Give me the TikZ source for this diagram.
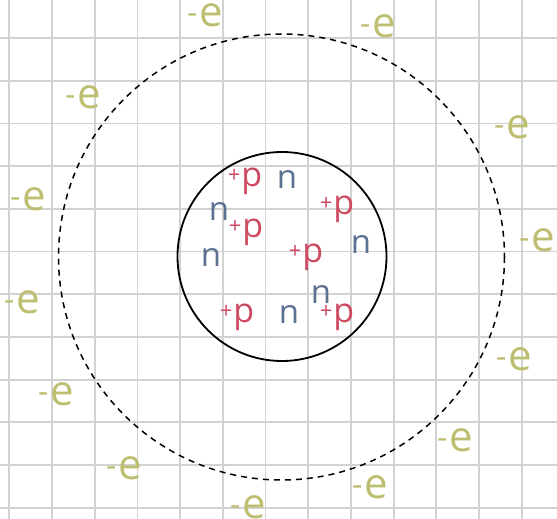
\documentclass[tikz,border=0pt]{standalone}
\usepackage{fontspec}
\setmainfont{Open Sans}
\definecolor{gridgray}{RGB}{210,210,210}
\definecolor{olive}{RGB}{190,190,112}
\definecolor{protred}{RGB}{206,74,96}
\definecolor{neutblue}{RGB}{92,112,146}
\newcommand{\elab}{\raisebox{3pt}{\fontsize{32}{32}\selectfont -}\hspace{2pt}{\fontsize{42}{42}\selectfont e}}
\newcommand{\plab}{\raisebox{4pt}{\fontsize{22}{22}\selectfont +}\hspace{1pt}{\fontsize{34}{34}\selectfont p}}
\newcommand{\nlab}{{\fontsize{33}{33}\selectfont n}}
\tikzset{
  gridline/.style={gridgray, line width=1.8pt},
  elec/.style={olive, inner sep=0pt},
  prot/.style={protred, inner sep=0pt},
  neut/.style={neutblue, inner sep=0pt},
}
\begin{document}
\begin{tikzpicture}[x=1pt,y=-1pt]
\useasboundingbox (0,0) rectangle (557,519);
\fill[white] (0,0) rectangle (557,519);
\foreach \k in {0,...,12} \draw[gridline] ({9.3+42.7*\k},0) -- ({9.3+42.7*\k},519);
\foreach \k in {0,...,11} \draw[gridline] (0,{38+42.7*\k}) -- (557,{38+42.7*\k});
% electron cloud
\draw[black, line width=1.5pt, dash pattern=on 6pt off 5pt] (281.5,257) circle[radius=223];
% nucleus
\draw[black, line width=1.8pt] (282,256.5) circle[radius=104.5];
% electrons
\node[elec] (e1) at (205,15) {\elab};
\node[elec] (e2) at (378,26) {\elab};
\node[elec] (e3) at (83,97) {\elab};
\node[elec] (e4) at (512,127) {\elab};
\node[elec] (e5) at (28,199) {\elab};
\node[elec] (e6) at (537,240) {\elab};
\node[elec] (e7) at (22,302) {\elab};
\node[elec] (e8) at (514,359) {\elab};
\node[elec] (e9) at (56,394) {\elab};
\node[elec] (e10) at (455,440) {\elab};
\node[elec] (e11) at (124,468) {\elab};
\node[elec] (e12) at (370,487) {\elab};
\node[elec] (e13) at (248,507) {\elab};
% protons
\node[prot] (p1) at (245,181) {\plab};
\node[prot] (p2) at (337,209) {\plab};
\node[prot] (p3) at (246,232) {\plab};
\node[prot] (p4) at (306,257) {\plab};
\node[prot] (p5) at (237,317) {\plab};
\node[prot] (p6) at (337,317) {\plab};
% neutrons
\node[neut] (n1) at (287,180) {\nlab};
\node[neut] (n2) at (219,212) {\nlab};
\node[neut] (n3) at (211,258) {\nlab};
\node[neut] (n4) at (361,245) {\nlab};
\node[neut] (n5) at (321,295) {\nlab};
\node[neut] (n6) at (289,315) {\nlab};
\end{tikzpicture}
\end{document}
